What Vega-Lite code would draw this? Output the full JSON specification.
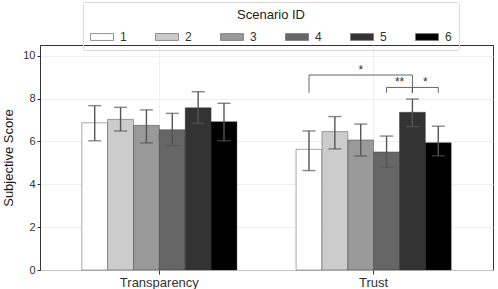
{
  "$schema": "https://vega.github.io/schema/vega-lite/v6.json",
  "autosize": "none",
  "width": 453,
  "height": 225,
  "padding": {"left": 40, "top": 45, "right": 5, "bottom": 19},
  "background": "white",
  "config": {
    "font": "Liberation Sans",
    "view": {"stroke": "#333333", "strokeWidth": 1},
    "axis": {"labelColor": "#333333", "titleColor": "#1a1a1a", "tickColor": "#333333", "domainColor": "#333333", "gridColor": "#ebebeb", "gridWidth": 0.8}
  },
  "datasets": {
    "bars": [
      {"measure": "Transparency", "scenario": "1", "mean": 6.87, "lo": 6.03, "hi": 7.67},
      {"measure": "Transparency", "scenario": "2", "mean": 7.03, "lo": 6.49, "hi": 7.59},
      {"measure": "Transparency", "scenario": "3", "mean": 6.75, "lo": 5.93, "hi": 7.47},
      {"measure": "Transparency", "scenario": "4", "mean": 6.55, "lo": 5.8, "hi": 7.31},
      {"measure": "Transparency", "scenario": "5", "mean": 7.57, "lo": 6.84, "hi": 8.32},
      {"measure": "Transparency", "scenario": "6", "mean": 6.92, "lo": 6.03, "hi": 7.78},
      {"measure": "Trust", "scenario": "1", "mean": 5.63, "lo": 4.64, "hi": 6.49},
      {"measure": "Trust", "scenario": "2", "mean": 6.46, "lo": 5.65, "hi": 7.16},
      {"measure": "Trust", "scenario": "3", "mean": 6.07, "lo": 5.32, "hi": 6.81},
      {"measure": "Trust", "scenario": "4", "mean": 5.51, "lo": 4.79, "hi": 6.25},
      {"measure": "Trust", "scenario": "5", "mean": 7.36, "lo": 6.69, "hi": 7.98},
      {"measure": "Trust", "scenario": "6", "mean": 5.94, "lo": 5.33, "hi": 6.71}
    ],
    "brackets": [
      {"pair": "1-5", "measure": "Trust", "scenario": "1", "y": 8.27, "k": 1},
      {"pair": "1-5", "measure": "Trust", "scenario": "1", "y": 9.1, "k": 2},
      {"pair": "1-5", "measure": "Trust", "scenario": "5", "y": 9.1, "k": 3},
      {"pair": "1-5", "measure": "Trust", "scenario": "5", "y": 8.27, "k": 4},
      {"pair": "4-5", "measure": "Trust", "scenario": "4", "y": 8.27, "k": 1},
      {"pair": "4-5", "measure": "Trust", "scenario": "4", "y": 8.52, "k": 2},
      {"pair": "4-5", "measure": "Trust", "scenario": "5", "y": 8.52, "k": 3},
      {"pair": "4-5", "measure": "Trust", "scenario": "5", "y": 8.27, "k": 4},
      {"pair": "5-6", "measure": "Trust", "scenario": "5", "y": 8.27, "k": 1},
      {"pair": "5-6", "measure": "Trust", "scenario": "5", "y": 8.52, "k": 2},
      {"pair": "5-6", "measure": "Trust", "scenario": "6", "y": 8.52, "k": 3},
      {"pair": "5-6", "measure": "Trust", "scenario": "6", "y": 8.27, "k": 4}
    ],
    "stars": [
      {"measure": "Trust", "scenario": "3", "y": 9.1, "label": "*", "mid": "no"},
      {"measure": "Trust", "scenario": "4", "y": 8.52, "label": "**", "mid": "yes"},
      {"measure": "Trust", "scenario": "5", "y": 8.52, "label": "*", "mid": "yes"}
    ]
  },
  "encoding": {
    "x": {
      "field": "measure", "type": "nominal",
      "scale": {"paddingInner": 0.276, "paddingOuter": 0.195},
      "axis": {"title": null, "labelAngle": 0, "labelFontSize": 13, "labelPadding": 2, "tickSize": 4, "grid": true, "bandPosition": 0.5, "domain": false}
    },
    "xOffset": {"field": "scenario", "type": "nominal", "scale": {"paddingInner": 0, "paddingOuter": 0}}
  },
  "layer": [
    {
      "data": {"name": "bars"},
      "mark": {"type": "bar", "stroke": "#333333", "strokeWidth": 0.6, "strokeOpacity": 0.7},
      "encoding": {
        "y": {
          "field": "mean", "type": "quantitative",
          "scale": {"domain": [0, 10.5], "nice": false, "zero": true},
          "axis": {"title": "Subjective Score", "titleFontSize": 13, "titleFontWeight": "normal", "titlePadding": 7, "values": [0, 2, 4, 6, 8, 10], "labelFontSize": 11, "tickSize": 3, "labelPadding": 2, "domain": true}
        },
        "fill": {
          "field": "scenario", "type": "nominal",
          "scale": {"range": ["#ffffff", "#cccccc", "#999999", "#666666", "#333333", "#000000"]},
          "legend": {
            "title": "Scenario ID", "orient": "none", "legendX": 43, "legendY": -43,
            "direction": "horizontal", "titleAnchor": "middle", "titleFontSize": 13, "titleFontWeight": "normal", "titleColor": "#1a1a1a", "titlePadding": 3,
            "labelFontSize": 12, "labelColor": "#333333", "labelOffset": 6,
            "symbolType": "M-1,-0.3H1V0.3H-1Z", "symbolSize": 529, "symbolStrokeColor": "#777777", "symbolStrokeWidth": 0.8,
            "columnPadding": 26, "padding": 7, "strokeColor": "#d9d9d9", "cornerRadius": 2
          }
        }
      }
    },
    {
      "data": {"name": "bars"},
      "mark": {"type": "rule", "color": "#555555", "strokeWidth": 1.4},
      "encoding": {"y": {"field": "lo", "type": "quantitative"}, "y2": {"field": "hi"}}
    },
    {
      "data": {"name": "bars"},
      "mark": {"type": "tick", "color": "#555555", "thickness": 1.4, "size": 13},
      "encoding": {"y": {"field": "lo", "type": "quantitative"}}
    },
    {
      "data": {"name": "bars"},
      "mark": {"type": "tick", "color": "#555555", "thickness": 1.4, "size": 13},
      "encoding": {"y": {"field": "hi", "type": "quantitative"}}
    },
    {
      "data": {"name": "brackets"},
      "mark": {"type": "line", "color": "#555555", "strokeWidth": 0.9},
      "encoding": {"y": {"field": "y", "type": "quantitative"}, "detail": {"field": "pair"}, "order": {"field": "k"}}
    },
    {
      "data": {"name": "stars"},
      "transform": [{"filter": "datum.mid == 'no'"}],
      "mark": {"type": "text", "color": "#333333", "fontSize": 12, "baseline": "alphabetic", "dy": -1},
      "encoding": {"y": {"field": "y", "type": "quantitative"}, "text": {"field": "label"}}
    },
    {
      "data": {"name": "stars"},
      "transform": [{"filter": "datum.mid == 'yes'"}],
      "mark": {"type": "text", "color": "#333333", "fontSize": 12, "baseline": "alphabetic", "dy": -1, "dx": 13},
      "encoding": {"y": {"field": "y", "type": "quantitative"}, "text": {"field": "label"}}
    }
  ]
}
